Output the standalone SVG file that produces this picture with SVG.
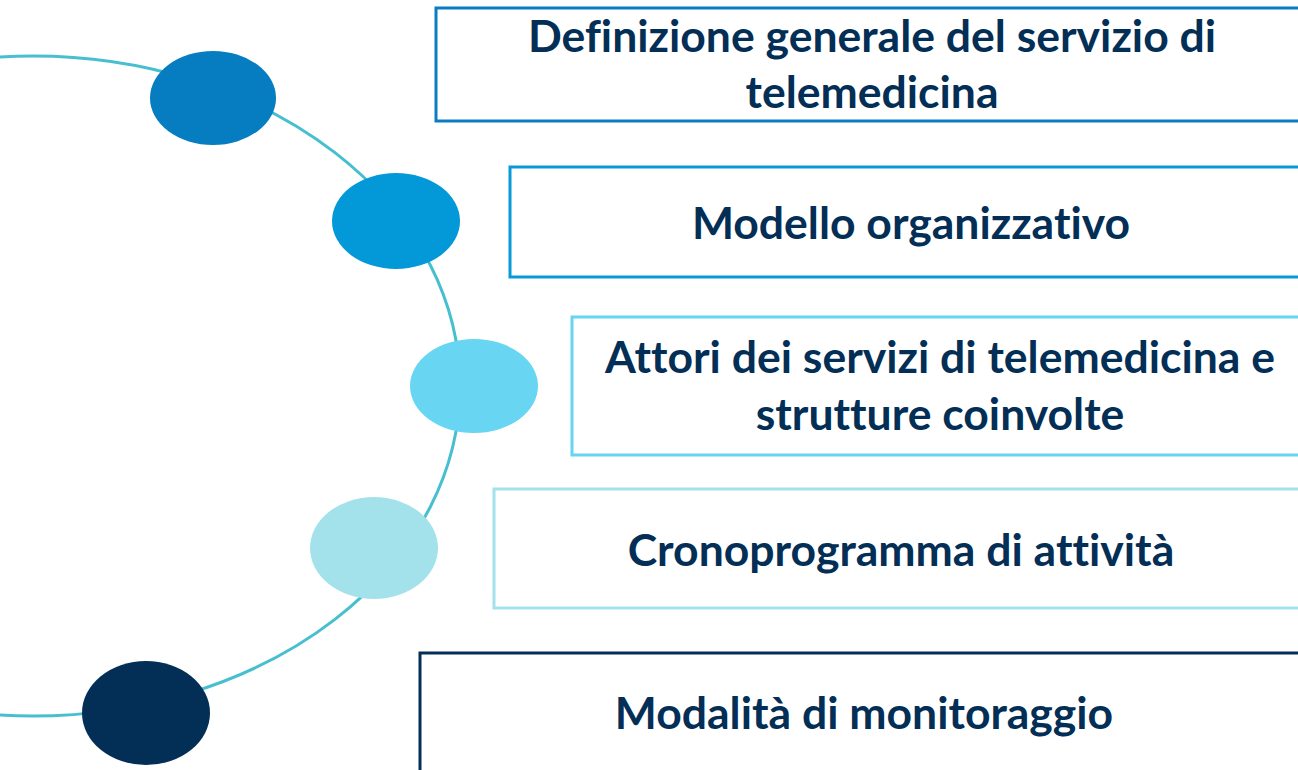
<svg xmlns="http://www.w3.org/2000/svg" width="1298" height="770" viewBox="0 0 1298 770">
<style>
.box{fill:#ffffff;stroke-width:3}
.lbl{font-family:Lato,"Liberation Sans",sans-serif;font-weight:700;font-size:44.5px;fill:#032E55;text-anchor:middle;font-variant-ligatures:none}
</style>
<rect width="1298" height="770" fill="#ffffff"/>
<g id="connectors">
<ellipse cx="33" cy="386" rx="427" ry="330" fill="none" stroke="#47BFCF" stroke-width="3"/>
</g>
<g id="node1">
<ellipse cx="213" cy="98" rx="63" ry="47" fill="#057DC0"/>
<rect class="box" x="436" y="8" width="880" height="113" stroke="#0A7CC1"/>
<text class="lbl" x="872" y="52">Definizione generale del servizio di</text>
<text class="lbl" x="872" y="108">telemedicina</text>
</g>
<g id="node2">
<ellipse cx="396" cy="221" rx="64" ry="48" fill="#0398D8"/>
<rect class="box" x="510" y="167" width="810" height="110" stroke="#0899D8"/>
<text class="lbl" x="911" y="239">Modello organizzativo</text>
</g>
<g id="node3">
<ellipse cx="474" cy="386" rx="64" ry="47" fill="#68D5F2"/>
<rect class="box" x="572" y="317" width="750" height="138" stroke="#66D5F2"/>
<text class="lbl" x="940" y="373">Attori dei servizi di telemedicina e</text>
<text class="lbl" x="940" y="430">strutture coinvolte</text>
</g>
<g id="node4">
<ellipse cx="374" cy="548" rx="64" ry="51" fill="#A3E2EA"/>
<rect class="box" x="494" y="489" width="830" height="119" stroke="#A3E2EA"/>
<text class="lbl" x="901" y="566">Cronoprogramma di attività</text>
</g>
<g id="node5">
<ellipse cx="146" cy="713" rx="64" ry="52" fill="#032E55"/>
<rect class="box" x="420" y="653" width="900" height="140" stroke="#032E55"/>
<text class="lbl" x="864" y="729">Modalità di monitoraggio</text>
</g>
</svg>
